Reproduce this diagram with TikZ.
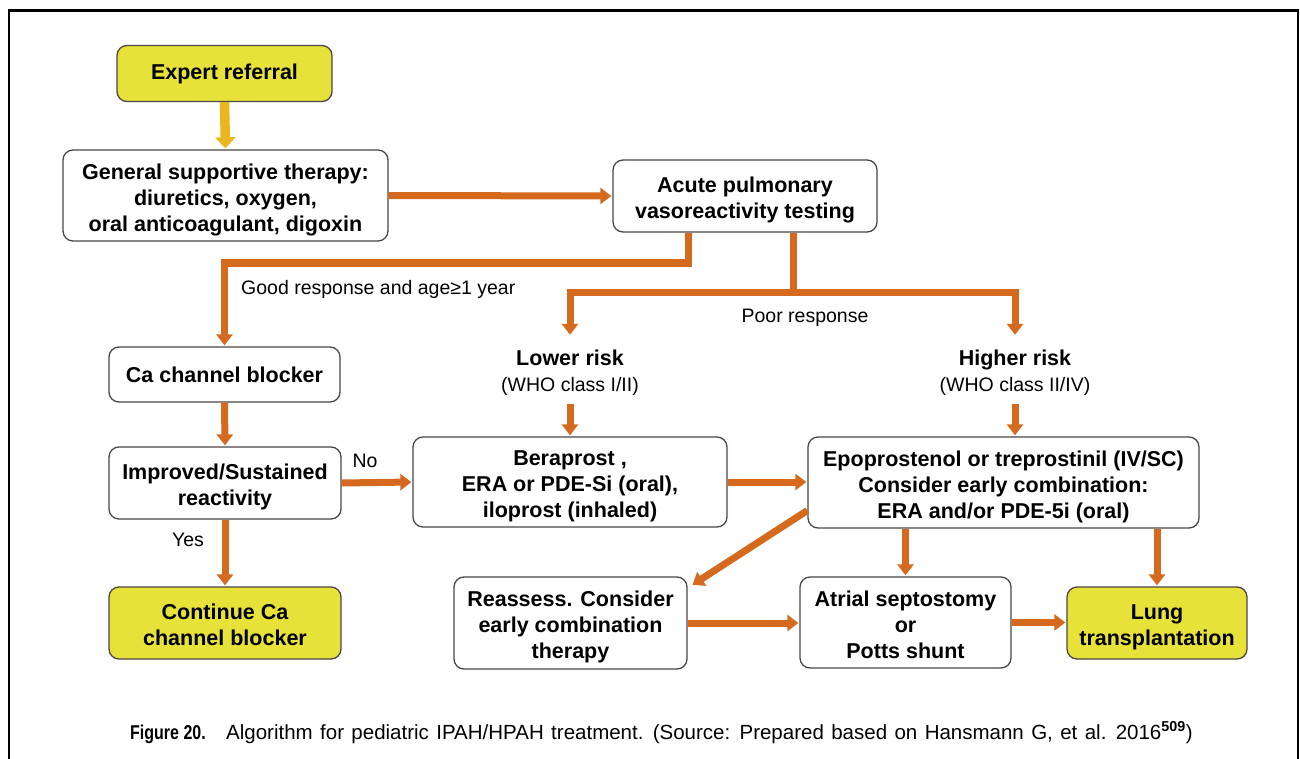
\documentclass[tikz,border=0pt]{standalone}
\usepackage{fontspec}
\setmainfont{Liberation Sans}
\newfontfamily\condfont[FakeStretch=0.8]{Liberation Sans}
\newfontfamily\capfont[WordSpace=1.3]{Liberation Sans}
\usetikzlibrary{arrows.meta,calc}

\definecolor{flowc}{RGB}{213,106,30}
\definecolor{startc}{RGB}{233,182,30}
\definecolor{hlfill}{RGB}{231,226,58}
\definecolor{boxline}{RGB}{78,70,70}

\newcommand{\boxfont}{\fontsize{21.5pt}{26pt}\selectfont\bfseries}
\newcommand{\labfont}{\fontsize{19.5pt}{26pt}\selectfont}
% taller first line and a fixed last-line depth, so that multi-line texts sit evenly in their boxes
\newcommand{\firstline}{\rule{0pt}{24pt}}
\newcommand{\lastline}{\rule[-4.5pt]{0pt}{4.5pt}}
\newcommand{\riskline}{\rule{0pt}{21pt}}

\tikzset{
  box/.style={draw=boxline, line width=1.3pt, rounded corners=10pt, fill=white,
    align=center, inner sep=0pt, font=\boxfont},
  hlbox/.style={box, fill=hlfill},
  risk/.style={align=center, inner sep=0pt, minimum height=68pt, font=\labfont},
  lab/.style={inner sep=0pt, font=\labfont},
  link/.style={draw=flowc, line width=7pt},
  flow/.style={link, -{Triangle[width=16pt,length=11pt]}, shorten >=1pt},
  startflow/.style={draw=startc, line width=9.5pt, -{Triangle[width=20pt,length=11pt]}, shorten >=1pt}
}

\begin{document}
\begin{tikzpicture}[x=1pt,y=-1pt]
\useasboundingbox (0,0) rectangle (1300,759);
\fill[white] (0,0) rectangle (1300,759);
% open frame around the figure
\draw[line width=2.5pt] (9,759) -- (9,10.5) -- (1298,10.5) -- (1298,759);

% boxes
\node[hlbox, minimum width=215pt, minimum height=56pt] (expert) at (224.5,73.5) {Expert referral};
\node[box, minimum width=325pt, minimum height=91pt] (general) at (225.5,195.5)
  {\firstline General supportive therapy:\\diuretics, oxygen,\\oral anticoagulant, digoxin\lastline};
\node[box, minimum width=264pt, minimum height=72pt] (acute) at (745,196)
  {\firstline Acute pulmonary\\vasoreactivity testing\lastline};
\node[box, minimum width=231pt, minimum height=55pt] (ccb) at (224.5,374.5) {Ca channel blocker};
\node[box, minimum width=232pt, minimum height=72pt] (improved) at (225,483)
  {\firstline Improved/Sustained\\reactivity\lastline};
\node[hlbox, minimum width=232pt, minimum height=72pt] (cont) at (225,623)
  {\firstline Continue Ca\\channel blocker\lastline};
\node[box, minimum width=314pt, minimum height=90pt] (bera) at (570,482)
  {\firstline Beraprost ,\\ERA or PDE-Si (oral),\\iloprost (inhaled)\lastline};
\node[box, minimum width=391pt, minimum height=91pt] (epo) at (1003.5,482.5)
  {\firstline Epoprostenol or treprostinil (IV/SC)\\Consider early combination:\\ERA and/or PDE-5i (oral)\lastline};
\node[box, minimum width=233pt, minimum height=92pt] (reassess) at (570.5,623)
  {\firstline Reassess. Consider\\early combination\\therapy\lastline};
\node[box, minimum width=211pt, minimum height=91pt] (atrial) at (905.5,622.5)
  {\firstline Atrial septostomy\\or\\Potts shunt\lastline};
\node[hlbox, minimum width=180pt, minimum height=72pt] (lung) at (1157,623)
  {\firstline Lung\\transplantation\lastline};

% risk groups
\node[risk] (lower) at (570,370) {\riskline{\boxfont Lower risk}\\(WHO class I/II)};
\node[risk] (higher) at (1015,370) {\riskline{\boxfont Higher risk}\\(WHO class II/IV)};

% branch points
\coordinate (gj) at (688,263);
\coordinate (pj) at (793,292);

% connectors
\draw[startflow] (expert.south) -- (general.north);
\draw[flow] (general.east) -- (acute.west);
\draw[flow] (acute.south -| gj) -- (gj) -| (ccb.north);
\draw[link] (acute.south -| pj) -- (pj);
\draw[flow] (pj) -| (lower.north);
\draw[flow] (pj) -| (higher.north);
\draw[flow] (lower.south) -- (bera.north);
\draw[flow] (higher.south) -- (higher.south |- epo.north);
\draw[flow] (ccb.south) -- (improved.north);
\draw[flow] (improved.south) -- (cont.north);
\draw[flow] (improved.east) -- (bera.west);
\draw[flow] (bera.east) -- (bera.east -| epo.west);
\draw[flow] ($(epo.west)+(0,28)$) -- ($(reassess.north east)+(4,9)$);
\draw[flow] (atrial.north |- epo.south) -- (atrial.north);
\draw[flow] (lung.north |- epo.south) -- (lung.north);
\draw[flow] (reassess.east) -- (reassess.east -| atrial.west);
\draw[flow] (atrial.east) -- (atrial.east -| lung.west);

% connector labels
\node[lab, anchor=west] (goodlab) at (241,289) {Good response and age≥1 year};
\node[lab] (poorlab) at (805,318) {Poor response};
\node[lab] (nolab) at (365,461) {No};
\node[lab] (yeslab) at (188,540) {Yes};

% caption
\node[inner sep=0pt, anchor=base west, font=\fontsize{20pt}{24pt}\condfont\bfseries] (capnum) at (130,739) {Figure 20.};
\node[inner sep=0pt, anchor=base west, font=\fontsize{20.5pt}{24pt}\capfont] (captext) at (226,739)
  {Algorithm for pediatric IPAH/HPAH treatment. (Source: Prepared based on Hansmann G, et al. 2016\textsuperscript{\bfseries 509})};
\end{tikzpicture}
\end{document}
